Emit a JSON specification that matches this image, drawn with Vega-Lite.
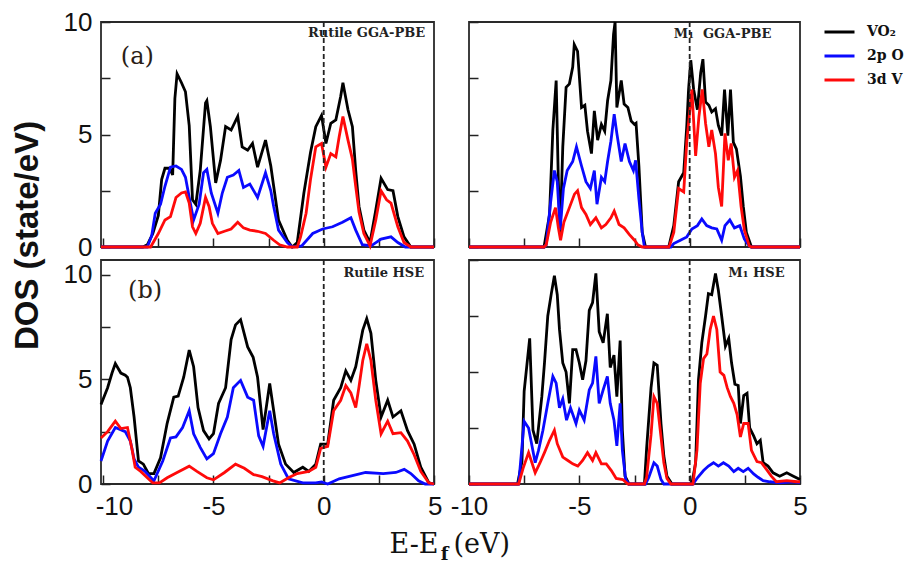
{
  "$schema": "https://vega.github.io/schema/vega-lite/v6.json",
  "background": "white",
  "padding": {"left": 10, "top": 8, "right": 2, "bottom": 2},
  "data": {"values": [
    {"p":"a","s":"VO₂","E":-10.1,"D":0},{"p":"a","s":"VO₂","E":-8.2,"D":0},{"p":"a","s":"VO₂","E":-8.0,"D":0.1},{"p":"a","s":"VO₂","E":-7.75,"D":0.6},{"p":"a","s":"VO₂","E":-7.5,"D":1.4},{"p":"a","s":"VO₂","E":-7.35,"D":3.0},{"p":"a","s":"VO₂","E":-7.2,"D":3.5},{"p":"a","s":"VO₂","E":-7.0,"D":3.5},{"p":"a","s":"VO₂","E":-6.85,"D":3.2},{"p":"a","s":"VO₂","E":-6.75,"D":6.6},{"p":"a","s":"VO₂","E":-6.65,"D":7.7},{"p":"a","s":"VO₂","E":-6.45,"D":7.3},{"p":"a","s":"VO₂","E":-6.27,"D":6.9},{"p":"a","s":"VO₂","E":-6.1,"D":5.4},{"p":"a","s":"VO₂","E":-5.95,"D":2.1},{"p":"a","s":"VO₂","E":-5.8,"D":1.9},{"p":"a","s":"VO₂","E":-5.6,"D":3.4},{"p":"a","s":"VO₂","E":-5.36,"D":6.4},{"p":"a","s":"VO₂","E":-5.3,"D":6.5},{"p":"a","s":"VO₂","E":-5.14,"D":5.35},{"p":"a","s":"VO₂","E":-4.9,"D":2.85},{"p":"a","s":"VO₂","E":-4.68,"D":3.85},{"p":"a","s":"VO₂","E":-4.45,"D":5.35},{"p":"a","s":"VO₂","E":-4.2,"D":5.2},{"p":"a","s":"VO₂","E":-3.9,"D":5.8},{"p":"a","s":"VO₂","E":-3.7,"D":4.45},{"p":"a","s":"VO₂","E":-3.45,"D":4.3},{"p":"a","s":"VO₂","E":-3.23,"D":4.6},{"p":"a","s":"VO₂","E":-3.0,"D":3.55},{"p":"a","s":"VO₂","E":-2.64,"D":4.75},{"p":"a","s":"VO₂","E":-2.4,"D":3.6},{"p":"a","s":"VO₂","E":-2.27,"D":2.7},{"p":"a","s":"VO₂","E":-2.05,"D":1.2},{"p":"a","s":"VO₂","E":-1.65,"D":0.3},{"p":"a","s":"VO₂","E":-1.43,"D":0},{"p":"a","s":"VO₂","E":-1.2,"D":0.2},{"p":"a","s":"VO₂","E":-0.9,"D":2.4},{"p":"a","s":"VO₂","E":-0.6,"D":4.2},{"p":"a","s":"VO₂","E":-0.36,"D":5.35},{"p":"a","s":"VO₂","E":-0.1,"D":5.85},{"p":"a","s":"VO₂","E":0.1,"D":4.6},{"p":"a","s":"VO₂","E":0.32,"D":5.5},{"p":"a","s":"VO₂","E":0.55,"D":5.65},{"p":"a","s":"VO₂","E":0.77,"D":6.7},{"p":"a","s":"VO₂","E":0.87,"D":7.3},{"p":"a","s":"VO₂","E":1.1,"D":6.1},{"p":"a","s":"VO₂","E":1.3,"D":5.35},{"p":"a","s":"VO₂","E":1.45,"D":3.4},{"p":"a","s":"VO₂","E":1.6,"D":1.8},{"p":"a","s":"VO₂","E":1.82,"D":0.75},{"p":"a","s":"VO₂","E":2.1,"D":0.2},{"p":"a","s":"VO₂","E":2.36,"D":1.65},{"p":"a","s":"VO₂","E":2.6,"D":3.05},{"p":"a","s":"VO₂","E":2.9,"D":2.55},{"p":"a","s":"VO₂","E":3.14,"D":2.5},{"p":"a","s":"VO₂","E":3.36,"D":1.35},{"p":"a","s":"VO₂","E":3.64,"D":0.45},{"p":"a","s":"VO₂","E":3.95,"D":0},{"p":"a","s":"VO₂","E":5,"D":0},
    {"p":"a","s":"2p O","E":-10.1,"D":0},{"p":"a","s":"2p O","E":-8.0,"D":0},{"p":"a","s":"2p O","E":-7.8,"D":0.5},{"p":"a","s":"2p O","E":-7.64,"D":1.5},{"p":"a","s":"2p O","E":-7.4,"D":1.9},{"p":"a","s":"2p O","E":-7.2,"D":2.7},{"p":"a","s":"2p O","E":-6.95,"D":3.55},{"p":"a","s":"2p O","E":-6.7,"D":3.6},{"p":"a","s":"2p O","E":-6.45,"D":3.45},{"p":"a","s":"2p O","E":-6.27,"D":3.1},{"p":"a","s":"2p O","E":-6.05,"D":1.95},{"p":"a","s":"2p O","E":-5.9,"D":1.2},{"p":"a","s":"2p O","E":-5.65,"D":1.9},{"p":"a","s":"2p O","E":-5.45,"D":3.3},{"p":"a","s":"2p O","E":-5.3,"D":3.45},{"p":"a","s":"2p O","E":-5.1,"D":2.4},{"p":"a","s":"2p O","E":-4.8,"D":1.5},{"p":"a","s":"2p O","E":-4.6,"D":2.4},{"p":"a","s":"2p O","E":-4.37,"D":3.1},{"p":"a","s":"2p O","E":-4.1,"D":3.2},{"p":"a","s":"2p O","E":-3.85,"D":3.4},{"p":"a","s":"2p O","E":-3.64,"D":2.65},{"p":"a","s":"2p O","E":-3.35,"D":2.8},{"p":"a","s":"2p O","E":-3.0,"D":2.2},{"p":"a","s":"2p O","E":-2.64,"D":3.3},{"p":"a","s":"2p O","E":-2.4,"D":2.5},{"p":"a","s":"2p O","E":-2.27,"D":1.8},{"p":"a","s":"2p O","E":-2.05,"D":0.75},{"p":"a","s":"2p O","E":-1.65,"D":0.2},{"p":"a","s":"2p O","E":-1.43,"D":0},{"p":"a","s":"2p O","E":-1.0,"D":0.05},{"p":"a","s":"2p O","E":-0.5,"D":0.6},{"p":"a","s":"2p O","E":-0.05,"D":0.8},{"p":"a","s":"2p O","E":0.4,"D":0.9},{"p":"a","s":"2p O","E":0.85,"D":1.1},{"p":"a","s":"2p O","E":1.23,"D":1.3},{"p":"a","s":"2p O","E":1.45,"D":0.75},{"p":"a","s":"2p O","E":1.75,"D":0.1},{"p":"a","s":"2p O","E":2.15,"D":0.05},{"p":"a","s":"2p O","E":2.6,"D":0.35},{"p":"a","s":"2p O","E":3.05,"D":0.45},{"p":"a","s":"2p O","E":3.36,"D":0.2},{"p":"a","s":"2p O","E":3.7,"D":0},{"p":"a","s":"2p O","E":5,"D":0},
    {"p":"a","s":"3d V","E":-10.1,"D":0},{"p":"a","s":"3d V","E":-7.85,"D":0},{"p":"a","s":"3d V","E":-7.5,"D":0.6},{"p":"a","s":"3d V","E":-7.2,"D":1.2},{"p":"a","s":"3d V","E":-6.95,"D":1.35},{"p":"a","s":"3d V","E":-6.7,"D":2.2},{"p":"a","s":"3d V","E":-6.45,"D":2.4},{"p":"a","s":"3d V","E":-6.27,"D":2.45},{"p":"a","s":"3d V","E":-6.1,"D":1.95},{"p":"a","s":"3d V","E":-5.95,"D":0.9},{"p":"a","s":"3d V","E":-5.8,"D":0.6},{"p":"a","s":"3d V","E":-5.6,"D":1.05},{"p":"a","s":"3d V","E":-5.36,"D":2.2},{"p":"a","s":"3d V","E":-5.2,"D":1.8},{"p":"a","s":"3d V","E":-5.05,"D":1.05},{"p":"a","s":"3d V","E":-4.8,"D":0.6},{"p":"a","s":"3d V","E":-4.5,"D":0.7},{"p":"a","s":"3d V","E":-4.2,"D":0.8},{"p":"a","s":"3d V","E":-3.9,"D":1.1},{"p":"a","s":"3d V","E":-3.64,"D":0.85},{"p":"a","s":"3d V","E":-3.35,"D":0.75},{"p":"a","s":"3d V","E":-3.0,"D":0.7},{"p":"a","s":"3d V","E":-2.64,"D":0.6},{"p":"a","s":"3d V","E":-2.27,"D":0.3},{"p":"a","s":"3d V","E":-2.0,"D":0.1},{"p":"a","s":"3d V","E":-1.65,"D":0},{"p":"a","s":"3d V","E":-1.2,"D":0},{"p":"a","s":"3d V","E":-1.05,"D":0.45},{"p":"a","s":"3d V","E":-0.8,"D":1.5},{"p":"a","s":"3d V","E":-0.6,"D":3.0},{"p":"a","s":"3d V","E":-0.36,"D":4.45},{"p":"a","s":"3d V","E":-0.1,"D":4.6},{"p":"a","s":"3d V","E":0.1,"D":3.55},{"p":"a","s":"3d V","E":0.32,"D":4.15},{"p":"a","s":"3d V","E":0.55,"D":4.0},{"p":"a","s":"3d V","E":0.7,"D":4.9},{"p":"a","s":"3d V","E":0.87,"D":5.8},{"p":"a","s":"3d V","E":1.1,"D":4.75},{"p":"a","s":"3d V","E":1.3,"D":3.9},{"p":"a","s":"3d V","E":1.45,"D":2.7},{"p":"a","s":"3d V","E":1.6,"D":1.55},{"p":"a","s":"3d V","E":1.82,"D":0.6},{"p":"a","s":"3d V","E":2.1,"D":0.05},{"p":"a","s":"3d V","E":2.36,"D":1.2},{"p":"a","s":"3d V","E":2.6,"D":2.5},{"p":"a","s":"3d V","E":2.85,"D":2.1},{"p":"a","s":"3d V","E":3.05,"D":1.95},{"p":"a","s":"3d V","E":3.36,"D":0.9},{"p":"a","s":"3d V","E":3.64,"D":0.2},{"p":"a","s":"3d V","E":3.95,"D":0},{"p":"a","s":"3d V","E":5,"D":0},

    {"p":"c","s":"VO₂","E":-10,"D":0},{"p":"c","s":"VO₂","E":-6.6,"D":0},{"p":"c","s":"VO₂","E":-6.35,"D":1.45},{"p":"c","s":"VO₂","E":-6.2,"D":5.2},{"p":"c","s":"VO₂","E":-6.05,"D":7.4},{"p":"c","s":"VO₂","E":-5.95,"D":2.9},{"p":"c","s":"VO₂","E":-5.87,"D":0.6},{"p":"c","s":"VO₂","E":-5.75,"D":4.45},{"p":"c","s":"VO₂","E":-5.6,"D":7.1},{"p":"c","s":"VO₂","E":-5.45,"D":7.25},{"p":"c","s":"VO₂","E":-5.3,"D":8.0},{"p":"c","s":"VO₂","E":-5.23,"D":9.0},{"p":"c","s":"VO₂","E":-5.08,"D":8.7},{"p":"c","s":"VO₂","E":-4.9,"D":6.2},{"p":"c","s":"VO₂","E":-4.75,"D":6.3},{"p":"c","s":"VO₂","E":-4.63,"D":5.15},{"p":"c","s":"VO₂","E":-4.45,"D":4.15},{"p":"c","s":"VO₂","E":-4.32,"D":6.05},{"p":"c","s":"VO₂","E":-4.17,"D":4.75},{"p":"c","s":"VO₂","E":-4.0,"D":5.45},{"p":"c","s":"VO₂","E":-3.85,"D":5.15},{"p":"c","s":"VO₂","E":-3.72,"D":6.5},{"p":"c","s":"VO₂","E":-3.57,"D":7.4},{"p":"c","s":"VO₂","E":-3.45,"D":9.45},{"p":"c","s":"VO₂","E":-3.38,"D":10},{"p":"c","s":"VO₂","E":-3.3,"D":6.2},{"p":"c","s":"VO₂","E":-3.1,"D":7.4},{"p":"c","s":"VO₂","E":-2.97,"D":6.35},{"p":"c","s":"VO₂","E":-2.8,"D":6.2},{"p":"c","s":"VO₂","E":-2.65,"D":5.6},{"p":"c","s":"VO₂","E":-2.5,"D":5.45},{"p":"c","s":"VO₂","E":-2.43,"D":5.5},{"p":"c","s":"VO₂","E":-2.3,"D":3.6},{"p":"c","s":"VO₂","E":-2.15,"D":0.65},{"p":"c","s":"VO₂","E":-2.0,"D":0},{"p":"c","s":"VO₂","E":-0.95,"D":0},{"p":"c","s":"VO₂","E":-0.72,"D":0.95},{"p":"c","s":"VO₂","E":-0.5,"D":2.9},{"p":"c","s":"VO₂","E":-0.27,"D":3.3},{"p":"c","s":"VO₂","E":-0.13,"D":5.4},{"p":"c","s":"VO₂","E":-0.05,"D":7.0},{"p":"c","s":"VO₂","E":0.05,"D":8.3},{"p":"c","s":"VO₂","E":0.18,"D":7.0},{"p":"c","s":"VO₂","E":0.35,"D":6.1},{"p":"c","s":"VO₂","E":0.5,"D":7.75},{"p":"c","s":"VO₂","E":0.6,"D":8.35},{"p":"c","s":"VO₂","E":0.72,"D":6.45},{"p":"c","s":"VO₂","E":0.87,"D":6.3},{"p":"c","s":"VO₂","E":1.0,"D":6.0},{"p":"c","s":"VO₂","E":1.17,"D":6.15},{"p":"c","s":"VO₂","E":1.3,"D":5.4},{"p":"c","s":"VO₂","E":1.45,"D":4.95},{"p":"c","s":"VO₂","E":1.58,"D":7.0},{"p":"c","s":"VO₂","E":1.73,"D":4.95},{"p":"c","s":"VO₂","E":1.85,"D":7.0},{"p":"c","s":"VO₂","E":1.98,"D":4.65},{"p":"c","s":"VO₂","E":2.12,"D":4.35},{"p":"c","s":"VO₂","E":2.3,"D":3.15},{"p":"c","s":"VO₂","E":2.43,"D":1.8},{"p":"c","s":"VO₂","E":2.57,"D":0.65},{"p":"c","s":"VO₂","E":2.8,"D":0},{"p":"c","s":"VO₂","E":5,"D":0},
    {"p":"c","s":"2p O","E":-10,"D":0},{"p":"c","s":"2p O","E":-6.6,"D":0},{"p":"c","s":"2p O","E":-6.5,"D":0.1},{"p":"c","s":"2p O","E":-6.3,"D":2.0},{"p":"c","s":"2p O","E":-6.13,"D":3.4},{"p":"c","s":"2p O","E":-6.0,"D":2.9},{"p":"c","s":"2p O","E":-5.87,"D":0.75},{"p":"c","s":"2p O","E":-5.72,"D":2.6},{"p":"c","s":"2p O","E":-5.55,"D":3.4},{"p":"c","s":"2p O","E":-5.3,"D":3.8},{"p":"c","s":"2p O","E":-5.13,"D":4.45},{"p":"c","s":"2p O","E":-4.9,"D":3.6},{"p":"c","s":"2p O","E":-4.7,"D":2.9},{"p":"c","s":"2p O","E":-4.5,"D":2.6},{"p":"c","s":"2p O","E":-4.32,"D":3.4},{"p":"c","s":"2p O","E":-4.2,"D":1.9},{"p":"c","s":"2p O","E":-4.0,"D":3.1},{"p":"c","s":"2p O","E":-3.85,"D":2.9},{"p":"c","s":"2p O","E":-3.72,"D":3.8},{"p":"c","s":"2p O","E":-3.57,"D":4.7},{"p":"c","s":"2p O","E":-3.42,"D":5.9},{"p":"c","s":"2p O","E":-3.3,"D":5.05},{"p":"c","s":"2p O","E":-3.1,"D":3.8},{"p":"c","s":"2p O","E":-2.93,"D":4.6},{"p":"c","s":"2p O","E":-2.73,"D":3.8},{"p":"c","s":"2p O","E":-2.55,"D":3.4},{"p":"c","s":"2p O","E":-2.45,"D":3.85},{"p":"c","s":"2p O","E":-2.3,"D":2.15},{"p":"c","s":"2p O","E":-2.15,"D":0.65},{"p":"c","s":"2p O","E":-2.05,"D":0},{"p":"c","s":"2p O","E":-0.85,"D":0},{"p":"c","s":"2p O","E":-0.72,"D":0.15},{"p":"c","s":"2p O","E":-0.42,"D":0.3},{"p":"c","s":"2p O","E":-0.13,"D":0.45},{"p":"c","s":"2p O","E":0.1,"D":0.8},{"p":"c","s":"2p O","E":0.35,"D":0.95},{"p":"c","s":"2p O","E":0.55,"D":1.25},{"p":"c","s":"2p O","E":0.77,"D":0.95},{"p":"c","s":"2p O","E":1.0,"D":0.85},{"p":"c","s":"2p O","E":1.23,"D":0.8},{"p":"c","s":"2p O","E":1.45,"D":0.3},{"p":"c","s":"2p O","E":1.6,"D":0.95},{"p":"c","s":"2p O","E":1.82,"D":1.2},{"p":"c","s":"2p O","E":2.03,"D":0.85},{"p":"c","s":"2p O","E":2.27,"D":0.95},{"p":"c","s":"2p O","E":2.48,"D":0.35},{"p":"c","s":"2p O","E":2.7,"D":0.05},{"p":"c","s":"2p O","E":2.8,"D":0},{"p":"c","s":"2p O","E":5,"D":0},
    {"p":"c","s":"3d V","E":-10,"D":0},{"p":"c","s":"3d V","E":-6.6,"D":0},{"p":"c","s":"3d V","E":-6.5,"D":0.1},{"p":"c","s":"3d V","E":-6.3,"D":1.1},{"p":"c","s":"3d V","E":-6.08,"D":1.75},{"p":"c","s":"3d V","E":-5.95,"D":0.85},{"p":"c","s":"3d V","E":-5.85,"D":0.3},{"p":"c","s":"3d V","E":-5.7,"D":1.1},{"p":"c","s":"3d V","E":-5.45,"D":1.75},{"p":"c","s":"3d V","E":-5.22,"D":2.35},{"p":"c","s":"3d V","E":-5.08,"D":2.5},{"p":"c","s":"3d V","E":-4.9,"D":1.75},{"p":"c","s":"3d V","E":-4.7,"D":1.45},{"p":"c","s":"3d V","E":-4.5,"D":1.0},{"p":"c","s":"3d V","E":-4.25,"D":1.3},{"p":"c","s":"3d V","E":-4.0,"D":0.85},{"p":"c","s":"3d V","E":-3.8,"D":1.0},{"p":"c","s":"3d V","E":-3.57,"D":1.3},{"p":"c","s":"3d V","E":-3.42,"D":1.6},{"p":"c","s":"3d V","E":-3.2,"D":1.0},{"p":"c","s":"3d V","E":-2.97,"D":0.85},{"p":"c","s":"3d V","E":-2.73,"D":0.55},{"p":"c","s":"3d V","E":-2.5,"D":0.3},{"p":"c","s":"3d V","E":-2.35,"D":0.1},{"p":"c","s":"3d V","E":-2.15,"D":0},{"p":"c","s":"3d V","E":-0.95,"D":0},{"p":"c","s":"3d V","E":-0.9,"D":0.1},{"p":"c","s":"3d V","E":-0.72,"D":0.65},{"p":"c","s":"3d V","E":-0.5,"D":2.6},{"p":"c","s":"3d V","E":-0.27,"D":2.45},{"p":"c","s":"3d V","E":-0.13,"D":4.7},{"p":"c","s":"3d V","E":0.0,"D":6.0},{"p":"c","s":"3d V","E":0.1,"D":7.0},{"p":"c","s":"3d V","E":0.27,"D":4.05},{"p":"c","s":"3d V","E":0.42,"D":5.8},{"p":"c","s":"3d V","E":0.57,"D":7.0},{"p":"c","s":"3d V","E":0.72,"D":5.5},{"p":"c","s":"3d V","E":0.87,"D":4.45},{"p":"c","s":"3d V","E":1.0,"D":5.2},{"p":"c","s":"3d V","E":1.17,"D":4.15},{"p":"c","s":"3d V","E":1.3,"D":2.65},{"p":"c","s":"3d V","E":1.45,"D":1.8},{"p":"c","s":"3d V","E":1.6,"D":5.05},{"p":"c","s":"3d V","E":1.75,"D":3.85},{"p":"c","s":"3d V","E":1.88,"D":4.6},{"p":"c","s":"3d V","E":2.03,"D":3.1},{"p":"c","s":"3d V","E":2.17,"D":3.4},{"p":"c","s":"3d V","E":2.33,"D":1.8},{"p":"c","s":"3d V","E":2.48,"D":0.75},{"p":"c","s":"3d V","E":2.7,"D":0.05},{"p":"c","s":"3d V","E":2.8,"D":0},{"p":"c","s":"3d V","E":5,"D":0},

    {"p":"b","s":"VO₂","E":-10.1,"D":3.8},{"p":"b","s":"VO₂","E":-9.8,"D":4.6},{"p":"b","s":"VO₂","E":-9.6,"D":5.3},{"p":"b","s":"VO₂","E":-9.45,"D":5.75},{"p":"b","s":"VO₂","E":-9.2,"D":5.3},{"p":"b","s":"VO₂","E":-9.0,"D":5.2},{"p":"b","s":"VO₂","E":-8.9,"D":5.1},{"p":"b","s":"VO₂","E":-8.77,"D":4.6},{"p":"b","s":"VO₂","E":-8.6,"D":3.2},{"p":"b","s":"VO₂","E":-8.4,"D":1.1},{"p":"b","s":"VO₂","E":-8.18,"D":0.95},{"p":"b","s":"VO₂","E":-7.95,"D":0.5},{"p":"b","s":"VO₂","E":-7.7,"D":0.5},{"p":"b","s":"VO₂","E":-7.4,"D":1.25},{"p":"b","s":"VO₂","E":-7.1,"D":2.9},{"p":"b","s":"VO₂","E":-6.8,"D":4.15},{"p":"b","s":"VO₂","E":-6.6,"D":4.2},{"p":"b","s":"VO₂","E":-6.35,"D":5.1},{"p":"b","s":"VO₂","E":-6.1,"D":6.4},{"p":"b","s":"VO₂","E":-5.9,"D":5.6},{"p":"b","s":"VO₂","E":-5.7,"D":3.65},{"p":"b","s":"VO₂","E":-5.45,"D":2.55},{"p":"b","s":"VO₂","E":-5.2,"D":2.15},{"p":"b","s":"VO₂","E":-5.0,"D":2.4},{"p":"b","s":"VO₂","E":-4.77,"D":3.85},{"p":"b","s":"VO₂","E":-4.45,"D":4.6},{"p":"b","s":"VO₂","E":-4.2,"D":6.9},{"p":"b","s":"VO₂","E":-4.0,"D":7.6},{"p":"b","s":"VO₂","E":-3.77,"D":7.85},{"p":"b","s":"VO₂","E":-3.45,"D":6.55},{"p":"b","s":"VO₂","E":-3.2,"D":6.05},{"p":"b","s":"VO₂","E":-3.0,"D":5.1},{"p":"b","s":"VO₂","E":-2.75,"D":2.6},{"p":"b","s":"VO₂","E":-2.45,"D":4.8},{"p":"b","s":"VO₂","E":-2.27,"D":3.5},{"p":"b","s":"VO₂","E":-2.05,"D":1.9},{"p":"b","s":"VO₂","E":-1.73,"D":0.95},{"p":"b","s":"VO₂","E":-1.36,"D":0.55},{"p":"b","s":"VO₂","E":-0.95,"D":0.8},{"p":"b","s":"VO₂","E":-0.68,"D":0.6},{"p":"b","s":"VO₂","E":-0.36,"D":0.95},{"p":"b","s":"VO₂","E":-0.14,"D":1.9},{"p":"b","s":"VO₂","E":0.18,"D":1.9},{"p":"b","s":"VO₂","E":0.45,"D":4.0},{"p":"b","s":"VO₂","E":0.77,"D":4.6},{"p":"b","s":"VO₂","E":1.0,"D":5.4},{"p":"b","s":"VO₂","E":1.23,"D":4.95},{"p":"b","s":"VO₂","E":1.45,"D":5.6},{"p":"b","s":"VO₂","E":1.77,"D":7.35},{"p":"b","s":"VO₂","E":1.95,"D":7.9},{"p":"b","s":"VO₂","E":2.14,"D":7.2},{"p":"b","s":"VO₂","E":2.36,"D":4.95},{"p":"b","s":"VO₂","E":2.6,"D":3.2},{"p":"b","s":"VO₂","E":2.9,"D":4.0},{"p":"b","s":"VO₂","E":3.14,"D":3.2},{"p":"b","s":"VO₂","E":3.5,"D":3.5},{"p":"b","s":"VO₂","E":3.8,"D":2.55},{"p":"b","s":"VO₂","E":4.1,"D":1.9},{"p":"b","s":"VO₂","E":4.4,"D":0.8},{"p":"b","s":"VO₂","E":4.77,"D":0.05},{"p":"b","s":"VO₂","E":5,"D":0},
    {"p":"b","s":"2p O","E":-10.1,"D":1.1},{"p":"b","s":"2p O","E":-9.8,"D":2.05},{"p":"b","s":"2p O","E":-9.45,"D":2.7},{"p":"b","s":"2p O","E":-9.0,"D":2.5},{"p":"b","s":"2p O","E":-8.77,"D":2.05},{"p":"b","s":"2p O","E":-8.6,"D":1.2},{"p":"b","s":"2p O","E":-8.4,"D":0.8},{"p":"b","s":"2p O","E":-8.1,"D":0.6},{"p":"b","s":"2p O","E":-7.7,"D":0.15},{"p":"b","s":"2p O","E":-7.3,"D":1.1},{"p":"b","s":"2p O","E":-6.95,"D":2.2},{"p":"b","s":"2p O","E":-6.7,"D":2.25},{"p":"b","s":"2p O","E":-6.4,"D":2.7},{"p":"b","s":"2p O","E":-6.1,"D":3.5},{"p":"b","s":"2p O","E":-5.9,"D":2.4},{"p":"b","s":"2p O","E":-5.6,"D":1.75},{"p":"b","s":"2p O","E":-5.3,"D":1.2},{"p":"b","s":"2p O","E":-5.0,"D":1.45},{"p":"b","s":"2p O","E":-4.68,"D":2.4},{"p":"b","s":"2p O","E":-4.37,"D":3.2},{"p":"b","s":"2p O","E":-4.1,"D":4.6},{"p":"b","s":"2p O","E":-3.77,"D":4.95},{"p":"b","s":"2p O","E":-3.45,"D":4.15},{"p":"b","s":"2p O","E":-3.18,"D":4.0},{"p":"b","s":"2p O","E":-2.95,"D":2.3},{"p":"b","s":"2p O","E":-2.75,"D":1.8},{"p":"b","s":"2p O","E":-2.45,"D":3.5},{"p":"b","s":"2p O","E":-2.27,"D":2.4},{"p":"b","s":"2p O","E":-1.95,"D":0.95},{"p":"b","s":"2p O","E":-1.6,"D":0.25},{"p":"b","s":"2p O","E":-0.95,"D":0.05},{"p":"b","s":"2p O","E":-0.36,"D":0.05},{"p":"b","s":"2p O","E":-0.1,"D":0.1},{"p":"b","s":"2p O","E":0.18,"D":0},{"p":"b","s":"2p O","E":0.7,"D":0.25},{"p":"b","s":"2p O","E":1.3,"D":0.4},{"p":"b","s":"2p O","E":1.9,"D":0.55},{"p":"b","s":"2p O","E":2.7,"D":0.5},{"p":"b","s":"2p O","E":3.27,"D":0.55},{"p":"b","s":"2p O","E":3.65,"D":0.7},{"p":"b","s":"2p O","E":3.95,"D":0.5},{"p":"b","s":"2p O","E":4.3,"D":0.15},{"p":"b","s":"2p O","E":4.6,"D":0},{"p":"b","s":"2p O","E":5,"D":0},
    {"p":"b","s":"3d V","E":-10.1,"D":2.2},{"p":"b","s":"3d V","E":-9.8,"D":2.5},{"p":"b","s":"3d V","E":-9.45,"D":3.0},{"p":"b","s":"3d V","E":-9.2,"D":2.65},{"p":"b","s":"3d V","E":-8.9,"D":2.7},{"p":"b","s":"3d V","E":-8.7,"D":1.7},{"p":"b","s":"3d V","E":-8.55,"D":0.8},{"p":"b","s":"3d V","E":-8.3,"D":0.6},{"p":"b","s":"3d V","E":-8.0,"D":0.3},{"p":"b","s":"3d V","E":-7.75,"D":0.05},{"p":"b","s":"3d V","E":-7.45,"D":0.05},{"p":"b","s":"3d V","E":-7.1,"D":0.3},{"p":"b","s":"3d V","E":-6.65,"D":0.55},{"p":"b","s":"3d V","E":-6.1,"D":0.85},{"p":"b","s":"3d V","E":-5.75,"D":0.6},{"p":"b","s":"3d V","E":-5.3,"D":0.3},{"p":"b","s":"3d V","E":-5.0,"D":0.2},{"p":"b","s":"3d V","E":-4.5,"D":0.55},{"p":"b","s":"3d V","E":-4.0,"D":0.95},{"p":"b","s":"3d V","E":-3.6,"D":0.75},{"p":"b","s":"3d V","E":-3.18,"D":0.45},{"p":"b","s":"3d V","E":-2.8,"D":0.35},{"p":"b","s":"3d V","E":-2.3,"D":0.15},{"p":"b","s":"3d V","E":-2.0,"D":0.05},{"p":"b","s":"3d V","E":-1.6,"D":0.3},{"p":"b","s":"3d V","E":-1.2,"D":0.5},{"p":"b","s":"3d V","E":-0.68,"D":0.6},{"p":"b","s":"3d V","E":-0.36,"D":0.8},{"p":"b","s":"3d V","E":-0.14,"D":1.7},{"p":"b","s":"3d V","E":0.18,"D":1.8},{"p":"b","s":"3d V","E":0.45,"D":3.5},{"p":"b","s":"3d V","E":0.77,"D":4.0},{"p":"b","s":"3d V","E":1.0,"D":4.7},{"p":"b","s":"3d V","E":1.23,"D":4.35},{"p":"b","s":"3d V","E":1.45,"D":3.65},{"p":"b","s":"3d V","E":1.6,"D":4.65},{"p":"b","s":"3d V","E":1.77,"D":5.9},{"p":"b","s":"3d V","E":1.95,"D":6.7},{"p":"b","s":"3d V","E":2.14,"D":5.9},{"p":"b","s":"3d V","E":2.36,"D":4.0},{"p":"b","s":"3d V","E":2.6,"D":2.4},{"p":"b","s":"3d V","E":2.9,"D":3.0},{"p":"b","s":"3d V","E":3.14,"D":2.4},{"p":"b","s":"3d V","E":3.5,"D":2.45},{"p":"b","s":"3d V","E":3.8,"D":2.05},{"p":"b","s":"3d V","E":4.1,"D":1.4},{"p":"b","s":"3d V","E":4.4,"D":0.6},{"p":"b","s":"3d V","E":4.77,"D":0.05},{"p":"b","s":"3d V","E":5,"D":0},

    {"p":"d","s":"VO₂","E":-10,"D":0},{"p":"d","s":"VO₂","E":-7.8,"D":0},{"p":"d","s":"VO₂","E":-7.6,"D":1.0},{"p":"d","s":"VO₂","E":-7.5,"D":4.15},{"p":"d","s":"VO₂","E":-7.25,"D":6.5},{"p":"d","s":"VO₂","E":-7.1,"D":2.4},{"p":"d","s":"VO₂","E":-6.93,"D":1.8},{"p":"d","s":"VO₂","E":-6.7,"D":3.9},{"p":"d","s":"VO₂","E":-6.58,"D":5.4},{"p":"d","s":"VO₂","E":-6.43,"D":7.5},{"p":"d","s":"VO₂","E":-6.27,"D":8.5},{"p":"d","s":"VO₂","E":-6.13,"D":9.3},{"p":"d","s":"VO₂","E":-6.0,"D":8.45},{"p":"d","s":"VO₂","E":-5.9,"D":6.9},{"p":"d","s":"VO₂","E":-5.75,"D":5.4},{"p":"d","s":"VO₂","E":-5.6,"D":5.0},{"p":"d","s":"VO₂","E":-5.45,"D":3.6},{"p":"d","s":"VO₂","E":-5.3,"D":6.0},{"p":"d","s":"VO₂","E":-5.15,"D":6.0},{"p":"d","s":"VO₂","E":-5.0,"D":5.4},{"p":"d","s":"VO₂","E":-4.85,"D":4.65},{"p":"d","s":"VO₂","E":-4.7,"D":5.5},{"p":"d","s":"VO₂","E":-4.55,"D":7.75},{"p":"d","s":"VO₂","E":-4.4,"D":8.1},{"p":"d","s":"VO₂","E":-4.25,"D":9.4},{"p":"d","s":"VO₂","E":-4.1,"D":6.8},{"p":"d","s":"VO₂","E":-3.92,"D":6.3},{"p":"d","s":"VO₂","E":-3.73,"D":7.6},{"p":"d","s":"VO₂","E":-3.6,"D":5.2},{"p":"d","s":"VO₂","E":-3.43,"D":5.75},{"p":"d","s":"VO₂","E":-3.3,"D":3.9},{"p":"d","s":"VO₂","E":-3.15,"D":6.4},{"p":"d","s":"VO₂","E":-3.05,"D":2.4},{"p":"d","s":"VO₂","E":-2.93,"D":0.35},{"p":"d","s":"VO₂","E":-2.75,"D":0},{"p":"d","s":"VO₂","E":-2.05,"D":0},{"p":"d","s":"VO₂","E":-1.95,"D":1.6},{"p":"d","s":"VO₂","E":-1.75,"D":4.3},{"p":"d","s":"VO₂","E":-1.62,"D":5.4},{"p":"d","s":"VO₂","E":-1.47,"D":5.3},{"p":"d","s":"VO₂","E":-1.3,"D":2.7},{"p":"d","s":"VO₂","E":-1.17,"D":1.25},{"p":"d","s":"VO₂","E":-1.03,"D":0.35},{"p":"d","s":"VO₂","E":-0.8,"D":0},{"p":"d","s":"VO₂","E":0.1,"D":0},{"p":"d","s":"VO₂","E":0.27,"D":0.95},{"p":"d","s":"VO₂","E":0.4,"D":4.65},{"p":"d","s":"VO₂","E":0.55,"D":6.3},{"p":"d","s":"VO₂","E":0.72,"D":7.5},{"p":"d","s":"VO₂","E":0.85,"D":8.5},{"p":"d","s":"VO₂","E":1.0,"D":8.45},{"p":"d","s":"VO₂","E":1.17,"D":9.4},{"p":"d","s":"VO₂","E":1.3,"D":8.65},{"p":"d","s":"VO₂","E":1.45,"D":7.5},{"p":"d","s":"VO₂","E":1.62,"D":6.15},{"p":"d","s":"VO₂","E":1.77,"D":6.5},{"p":"d","s":"VO₂","E":1.9,"D":5.4},{"p":"d","s":"VO₂","E":2.05,"D":4.45},{"p":"d","s":"VO₂","E":2.2,"D":4.4},{"p":"d","s":"VO₂","E":2.3,"D":2.7},{"p":"d","s":"VO₂","E":2.45,"D":3.95},{"p":"d","s":"VO₂","E":2.6,"D":4.05},{"p":"d","s":"VO₂","E":2.72,"D":2.5},{"p":"d","s":"VO₂","E":2.9,"D":2.15},{"p":"d","s":"VO₂","E":3.05,"D":1.8},{"p":"d","s":"VO₂","E":3.2,"D":1.95},{"p":"d","s":"VO₂","E":3.33,"D":0.95},{"p":"d","s":"VO₂","E":3.55,"D":0.8},{"p":"d","s":"VO₂","E":3.78,"D":0.5},{"p":"d","s":"VO₂","E":4.08,"D":0.35},{"p":"d","s":"VO₂","E":4.4,"D":0.5},{"p":"d","s":"VO₂","E":4.7,"D":0.35},{"p":"d","s":"VO₂","E":5.0,"D":0.2},
    {"p":"d","s":"2p O","E":-10,"D":0},{"p":"d","s":"2p O","E":-7.75,"D":0},{"p":"d","s":"2p O","E":-7.5,"D":2.8},{"p":"d","s":"2p O","E":-7.3,"D":2.5},{"p":"d","s":"2p O","E":-7.0,"D":0.95},{"p":"d","s":"2p O","E":-6.85,"D":1.5},{"p":"d","s":"2p O","E":-6.65,"D":2.4},{"p":"d","s":"2p O","E":-6.43,"D":3.6},{"p":"d","s":"2p O","E":-6.2,"D":4.8},{"p":"d","s":"2p O","E":-6.05,"D":4.5},{"p":"d","s":"2p O","E":-5.9,"D":3.4},{"p":"d","s":"2p O","E":-5.75,"D":3.8},{"p":"d","s":"2p O","E":-5.58,"D":2.85},{"p":"d","s":"2p O","E":-5.4,"D":3.4},{"p":"d","s":"2p O","E":-5.15,"D":2.7},{"p":"d","s":"2p O","E":-5.0,"D":3.3},{"p":"d","s":"2p O","E":-4.78,"D":2.85},{"p":"d","s":"2p O","E":-4.55,"D":4.2},{"p":"d","s":"2p O","E":-4.4,"D":4.5},{"p":"d","s":"2p O","E":-4.25,"D":5.7},{"p":"d","s":"2p O","E":-4.1,"D":3.6},{"p":"d","s":"2p O","E":-3.92,"D":4.2},{"p":"d","s":"2p O","E":-3.73,"D":4.8},{"p":"d","s":"2p O","E":-3.6,"D":3.6},{"p":"d","s":"2p O","E":-3.43,"D":2.85},{"p":"d","s":"2p O","E":-3.3,"D":1.7},{"p":"d","s":"2p O","E":-3.15,"D":3.6},{"p":"d","s":"2p O","E":-3.05,"D":1.5},{"p":"d","s":"2p O","E":-2.9,"D":0.2},{"p":"d","s":"2p O","E":-2.75,"D":0},{"p":"d","s":"2p O","E":-2.0,"D":0},{"p":"d","s":"2p O","E":-1.85,"D":0.3},{"p":"d","s":"2p O","E":-1.62,"D":0.95},{"p":"d","s":"2p O","E":-1.47,"D":0.8},{"p":"d","s":"2p O","E":-1.3,"D":0.2},{"p":"d","s":"2p O","E":-1.17,"D":0},{"p":"d","s":"2p O","E":0.15,"D":0},{"p":"d","s":"2p O","E":0.37,"D":0.3},{"p":"d","s":"2p O","E":0.63,"D":0.6},{"p":"d","s":"2p O","E":0.85,"D":0.8},{"p":"d","s":"2p O","E":1.08,"D":0.95},{"p":"d","s":"2p O","E":1.3,"D":0.8},{"p":"d","s":"2p O","E":1.53,"D":0.95},{"p":"d","s":"2p O","E":1.77,"D":0.8},{"p":"d","s":"2p O","E":2.0,"D":0.55},{"p":"d","s":"2p O","E":2.2,"D":0.7},{"p":"d","s":"2p O","E":2.43,"D":0.55},{"p":"d","s":"2p O","E":2.65,"D":0.7},{"p":"d","s":"2p O","E":2.9,"D":0.45},{"p":"d","s":"2p O","E":3.1,"D":0.3},{"p":"d","s":"2p O","E":3.33,"D":0.15},{"p":"d","s":"2p O","E":3.63,"D":0.1},{"p":"d","s":"2p O","E":4.08,"D":0.05},{"p":"d","s":"2p O","E":4.7,"D":0.1},{"p":"d","s":"2p O","E":5.0,"D":0.05},
    {"p":"d","s":"3d V","E":-10,"D":0},{"p":"d","s":"3d V","E":-7.75,"D":0},{"p":"d","s":"3d V","E":-7.55,"D":0.7},{"p":"d","s":"3d V","E":-7.3,"D":1.4},{"p":"d","s":"3d V","E":-7.0,"D":0.5},{"p":"d","s":"3d V","E":-6.78,"D":0.95},{"p":"d","s":"3d V","E":-6.58,"D":1.4},{"p":"d","s":"3d V","E":-6.35,"D":1.95},{"p":"d","s":"3d V","E":-6.13,"D":2.4},{"p":"d","s":"3d V","E":-6.0,"D":1.8},{"p":"d","s":"3d V","E":-5.75,"D":1.2},{"p":"d","s":"3d V","E":-5.52,"D":1.05},{"p":"d","s":"3d V","E":-5.3,"D":0.9},{"p":"d","s":"3d V","E":-5.07,"D":0.8},{"p":"d","s":"3d V","E":-4.85,"D":1.05},{"p":"d","s":"3d V","E":-4.63,"D":1.4},{"p":"d","s":"3d V","E":-4.4,"D":1.05},{"p":"d","s":"3d V","E":-4.25,"D":1.4},{"p":"d","s":"3d V","E":-4.0,"D":0.9},{"p":"d","s":"3d V","E":-3.78,"D":0.9},{"p":"d","s":"3d V","E":-3.55,"D":0.6},{"p":"d","s":"3d V","E":-3.33,"D":0.25},{"p":"d","s":"3d V","E":-3.03,"D":0.2},{"p":"d","s":"3d V","E":-2.8,"D":0},{"p":"d","s":"3d V","E":-2.05,"D":0},{"p":"d","s":"3d V","E":-1.95,"D":0.3},{"p":"d","s":"3d V","E":-1.75,"D":2.2},{"p":"d","s":"3d V","E":-1.62,"D":3.9},{"p":"d","s":"3d V","E":-1.47,"D":3.6},{"p":"d","s":"3d V","E":-1.3,"D":2.1},{"p":"d","s":"3d V","E":-1.17,"D":0.95},{"p":"d","s":"3d V","E":-1.03,"D":0.25},{"p":"d","s":"3d V","E":-0.85,"D":0},{"p":"d","s":"3d V","E":0.15,"D":0},{"p":"d","s":"3d V","E":0.33,"D":1.5},{"p":"d","s":"3d V","E":0.48,"D":4.5},{"p":"d","s":"3d V","E":0.63,"D":5.6},{"p":"d","s":"3d V","E":0.78,"D":5.8},{"p":"d","s":"3d V","E":0.93,"D":6.9},{"p":"d","s":"3d V","E":1.08,"D":7.5},{"p":"d","s":"3d V","E":1.23,"D":6.9},{"p":"d","s":"3d V","E":1.38,"D":5.0},{"p":"d","s":"3d V","E":1.55,"D":4.85},{"p":"d","s":"3d V","E":1.7,"D":4.3},{"p":"d","s":"3d V","E":1.85,"D":3.9},{"p":"d","s":"3d V","E":2.0,"D":3.6},{"p":"d","s":"3d V","E":2.15,"D":3.1},{"p":"d","s":"3d V","E":2.3,"D":2.1},{"p":"d","s":"3d V","E":2.45,"D":2.7},{"p":"d","s":"3d V","E":2.65,"D":2.7},{"p":"d","s":"3d V","E":2.8,"D":1.5},{"p":"d","s":"3d V","E":3.05,"D":1.0},{"p":"d","s":"3d V","E":3.25,"D":0.95},{"p":"d","s":"3d V","E":3.48,"D":0.65},{"p":"d","s":"3d V","E":3.7,"D":0.35},{"p":"d","s":"3d V","E":3.93,"D":0.1},{"p":"d","s":"3d V","E":4.4,"D":0.15},{"p":"d","s":"3d V","E":4.85,"D":0.1},{"p":"d","s":"3d V","E":5.0,"D":0.1}
  ]},
  "columns": 2,
  "spacing": {"row": 13, "column": 35},
  "bounds": "flush",
  "concat": [
    {
      "width": 333, "height": 225,
      "layer": [
        {
          "transform": [{"filter": "datum.p === 'a'"}],
          "mark": {"type": "line", "strokeWidth": 2.8},
          "encoding": {
            "x": {"field": "E", "type": "quantitative", "scale": {"domain": [-10.1, 5], "nice": false, "zero": false},
                  "axis": {"values": [-10, -7.5, -5, -2.5, 0, 2.5, 5], "labels": false, "title": null}},
            "y": {"field": "D", "type": "quantitative", "scale": {"domain": [0, 10], "nice": false},
                  "axis": {"values": [0, 2.5, 5, 7.5, 10], "labelExpr": "datum.value % 5 === 0 ? '' + datum.value : ''",
                           "title": "DOS (state/eV)", "titleFont": "Liberation Sans", "titleFontWeight": "bold", "titleFontSize": 33,
                           "titleColor": "#111", "titleAngle": 270, "titleX": -64, "titleY": 213, "titleAlign": "center", "titleBaseline": "alphabetic"}},
            "color": {"field": "s", "type": "nominal",
                      "scale": {"domain": ["VO₂", "2p O", "3d V"], "range": ["#000000", "#0a0aff", "#ff0a0a"]},
                      "legend": {"title": null, "orient": "right", "offset": 14, "symbolType": "stroke", "symbolStrokeWidth": 3, "symbolSize": 900,
                                 "labelFont": "DejaVu Serif", "labelFontWeight": "bold", "labelFontSize": 14, "labelColor": "#111", "labelOffset": 11,
                                 "clipHeight": 20, "rowPadding": 4, "padding": 0}}
          }
        },
        {"data": {"values": [{}]}, "mark": {"type": "rule", "strokeDash": [5, 3], "strokeWidth": 1.8, "color": "#222"}, "encoding": {"x": {"datum": 0}}},
        {"data": {"values": [{}]}, "mark": {"type": "text", "font": "DejaVu Serif", "fontSize": 24, "color": "#2a2016"},
         "encoding": {"x": {"datum": -8.45}, "y": {"datum": 8.45}, "text": {"value": "(a)"}}},
        {"data": {"values": [{}]}, "mark": {"type": "text", "font": "DejaVu Serif", "fontWeight": "bold", "fontSize": 13, "align": "right", "color": "#222"},
         "encoding": {"x": {"datum": 4.6}, "y": {"datum": 9.5}, "text": {"value": "Rutile GGA-PBE"}}}
      ]
    },
    {
      "width": 331, "height": 225,
      "layer": [
        {
          "transform": [{"filter": "datum.p === 'c'"}],
          "mark": {"type": "line", "strokeWidth": 2.8},
          "encoding": {
            "x": {"field": "E", "type": "quantitative", "scale": {"domain": [-10, 5], "nice": false, "zero": false},
                  "axis": {"values": [-10, -7.5, -5, -2.5, 0, 2.5, 5], "labels": false,
                           "title": "f", "titleFont": "DejaVu Serif", "titleFontWeight": "bold", "titleFontSize": 18, "titleColor": "#111",
                           "titleX": -25, "titleY": 312, "titleAlign": "center", "titleBaseline": "alphabetic"}},
            "y": {"field": "D", "type": "quantitative", "scale": {"domain": [0, 10], "nice": false},
                  "axis": {"values": [0, 2.5, 5, 7.5, 10], "labels": false, "title": null}},
            "color": {"field": "s", "type": "nominal",
                      "scale": {"domain": ["VO₂", "2p O", "3d V"], "range": ["#000000", "#0a0aff", "#ff0a0a"]}}
          }
        },
        {"data": {"values": [{}]}, "mark": {"type": "rule", "strokeDash": [5, 3], "strokeWidth": 1.8, "color": "#222"}, "encoding": {"x": {"datum": 0}}},
        {"data": {"values": [{}]}, "mark": {"type": "text", "font": "DejaVu Serif", "fontWeight": "bold", "fontSize": 13, "align": "right", "color": "#222"},
         "encoding": {"x": {"datum": 3.7}, "y": {"datum": 9.45}, "text": {"value": "M₁\u00a0 GGA-PBE"}}}
      ]
    },
    {
      "width": 333, "height": 224,
      "layer": [
        {
          "transform": [{"filter": "datum.p === 'b'"}],
          "mark": {"type": "line", "strokeWidth": 2.8},
          "encoding": {
            "x": {"field": "E", "type": "quantitative", "scale": {"domain": [-10.1, 5], "nice": false, "zero": false},
                  "axis": {"values": [-10, -7.5, -5, -2.5, 0, 2.5, 5], "labelExpr": "datum.value % 5 === 0 ? '' + datum.value : ''",
                           "labelFlush": 4, "labelFlushOffset": 8,
                           "title": "E-E", "titleFont": "DejaVu Serif", "titleFontWeight": "normal", "titleFontSize": 27, "titleColor": "#111",
                           "titleX": 337, "titleY": 68, "titleAlign": "right", "titleBaseline": "alphabetic"}},
            "y": {"field": "D", "type": "quantitative", "scale": {"domain": [0, 10.7], "nice": false},
                  "axis": {"values": [0, 2.5, 5, 7.5, 10], "labelExpr": "datum.value % 5 === 0 ? '' + datum.value : ''", "title": null}},
            "color": {"field": "s", "type": "nominal",
                      "scale": {"domain": ["VO₂", "2p O", "3d V"], "range": ["#000000", "#0a0aff", "#ff0a0a"]}}
          }
        },
        {"data": {"values": [{}]}, "mark": {"type": "rule", "strokeDash": [5, 3], "strokeWidth": 1.8, "color": "#222"}, "encoding": {"x": {"datum": 0}}},
        {"data": {"values": [{}]}, "mark": {"type": "text", "font": "DejaVu Serif", "fontSize": 24, "color": "#2a2016"},
         "encoding": {"x": {"datum": -8.1}, "y": {"datum": 9.2}, "text": {"value": "(b)"}}},
        {"data": {"values": [{}]}, "mark": {"type": "text", "font": "DejaVu Serif", "fontWeight": "bold", "fontSize": 13, "align": "right", "color": "#222"},
         "encoding": {"x": {"datum": 4.55}, "y": {"datum": 10.1}, "text": {"value": "Rutile HSE"}}}
      ]
    },
    {
      "width": 331, "height": 224,
      "layer": [
        {
          "transform": [{"filter": "datum.p === 'd'"}],
          "mark": {"type": "line", "strokeWidth": 2.8},
          "encoding": {
            "x": {"field": "E", "type": "quantitative", "scale": {"domain": [-10, 5], "nice": false, "zero": false},
                  "axis": {"values": [-10, -7.5, -5, -2.5, 0, 2.5, 5], "labelExpr": "datum.value % 5 === 0 ? '' + datum.value : ''",
                           "title": "(eV)", "titleFont": "DejaVu Serif", "titleFontWeight": "normal", "titleFontSize": 27, "titleColor": "#111",
                           "titleX": -16, "titleY": 68, "titleAlign": "left", "titleBaseline": "alphabetic"}},
            "y": {"field": "D", "type": "quantitative", "scale": {"domain": [0, 10], "nice": false},
                  "axis": {"values": [0, 2.5, 5, 7.5, 10], "labels": false, "title": null}},
            "color": {"field": "s", "type": "nominal",
                      "scale": {"domain": ["VO₂", "2p O", "3d V"], "range": ["#000000", "#0a0aff", "#ff0a0a"]}}
          }
        },
        {"data": {"values": [{}]}, "mark": {"type": "rule", "strokeDash": [5, 3], "strokeWidth": 1.8, "color": "#222"}, "encoding": {"x": {"datum": 0}}},
        {"data": {"values": [{}]}, "mark": {"type": "text", "font": "DejaVu Serif", "fontWeight": "bold", "fontSize": 13, "align": "right", "color": "#222"},
         "encoding": {"x": {"datum": 4.3}, "y": {"datum": 9.4}, "text": {"value": "M₁ HSE"}}}
      ]
    }
  ],
  "config": {
    "view": {"stroke": "#2a2a2a", "strokeWidth": 1.8},
    "axis": {"domain": false, "grid": false, "tickColor": "#222", "tickWidth": 1.5, "tickSize": -9,
             "labelFont": "Liberation Sans", "labelFontSize": 26, "labelColor": "#111", "labelPadding": 18,
             "labelFlush": false, "labelOverlap": false}
  }
}
